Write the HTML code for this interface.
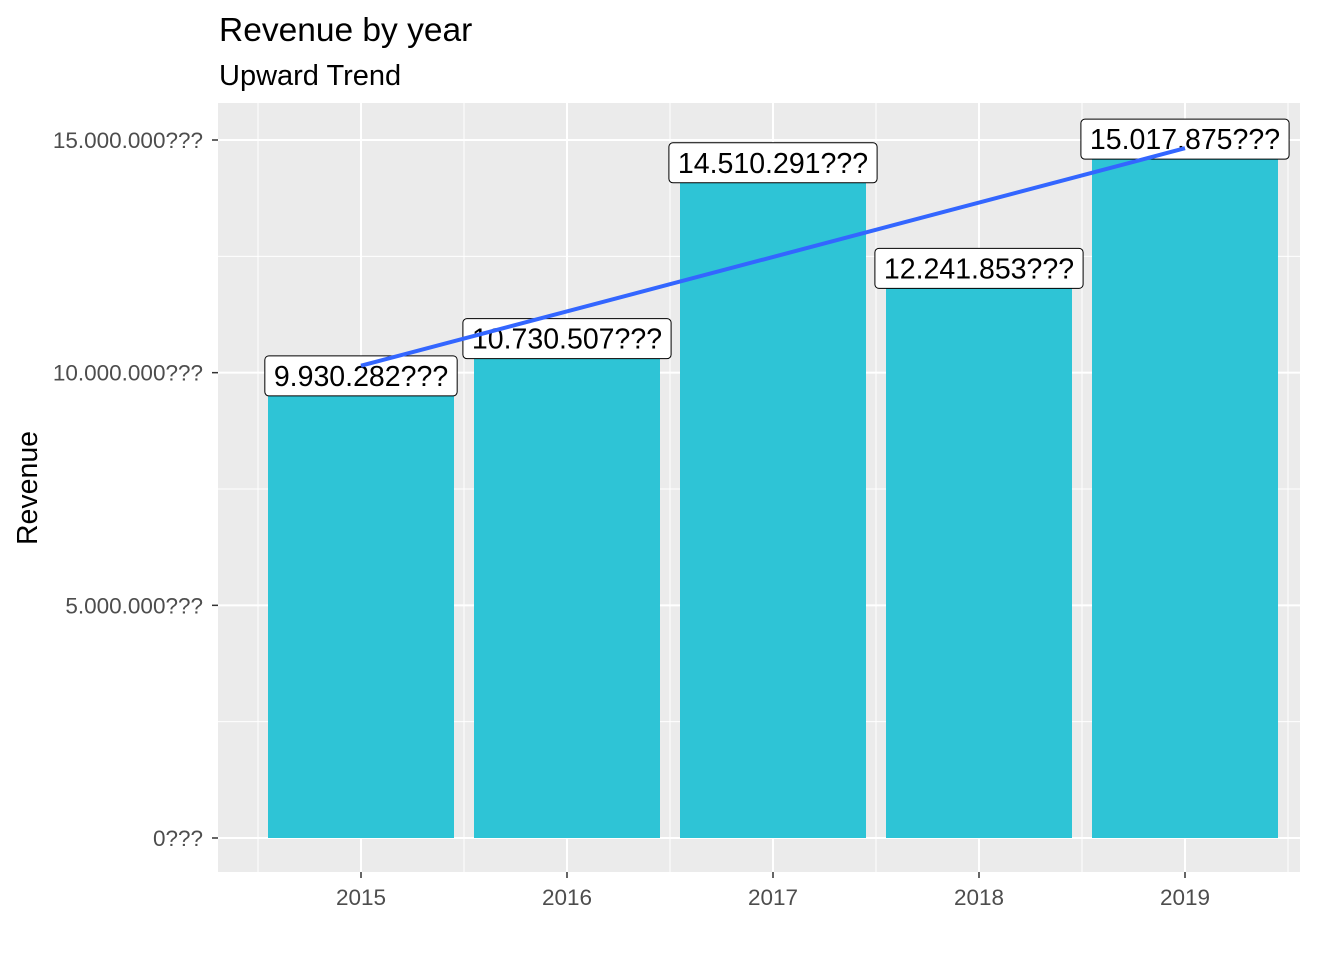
<!DOCTYPE html>
<html><head><meta charset="utf-8"><style>
body{margin:0;background:#fff}
svg text{font-family:"Liberation Sans",Arial,sans-serif}
</style></head><body>
<svg id="chart" width="1344" height="960" xmlns="http://www.w3.org/2000/svg">
<text x="219" y="41" font-size="33.5" fill="#000">Revenue by year</text>
<text x="219" y="85" font-size="29" fill="#000">Upward Trend</text>
<text transform="translate(37,488) rotate(-90)" text-anchor="middle" font-size="28.5" fill="#000">Revenue</text>
<g id="plot"></g>
</svg>
<script>
const years=[2015,2016,2017,2018,2019];
const revenue=[9930282,10730507,14510291,12241853,15017875];
const labels=["9.930.282???","10.730.507???","14.510.291???","12.241.853???","15.017.875???"];
const yTicks=[0,5000000,10000000,15000000];
const yTickLabels=["0???","5.000.000???","10.000.000???","15.000.000???"];

const NS="http://www.w3.org/2000/svg";
const g=document.getElementById('plot');
const L=218,R=1300,T=103,B=872;
const x=v=>361+(v-2015)*206;
const y=v=>838-v*(838-140)/15000000;
function el(t,a,p){const e=document.createElementNS(NS,t);for(const k in a)e.setAttribute(k,a[k]);(p||g).appendChild(e);return e;}
const bg=el('rect',{x:L,y:T,width:R-L,height:B-T,fill:'#EBEBEB'});


for(let i=0;i<yTicks.length-1;i++){const v=(yTicks[i]+yTicks[i+1])/2;
 const l=el('line',{x1:L,x2:R,y1:y(v),y2:y(v),stroke:'#fff','stroke-width':1});
 
 }
for(let i=0;i<=years.length;i++){const v=years[0]-0.5+i;
 const l=el('line',{x1:x(v),x2:x(v),y1:T,y2:B,stroke:'#fff','stroke-width':1});
 
 }
yTicks.forEach((v,i)=>{
 const l=el('line',{x1:L,x2:R,y1:y(v),y2:y(v),stroke:'#fff','stroke-width':2});
 
 
 el('line',{x1:L-6,x2:L,y1:y(v),y2:y(v),stroke:'#333','stroke-width':1.5});
 const t=el('text',{x:L-15,y:y(v)+8,'text-anchor':'end','font-size':22.5,fill:'#4D4D4D'});t.textContent=yTickLabels[i];
 
 
});
years.forEach((yr,i)=>{
 const l=el('line',{x1:x(yr),x2:x(yr),y1:T,y2:B,stroke:'#fff','stroke-width':2});
 
 
 el('line',{x1:x(yr),x2:x(yr),y1:B,y2:B+6,stroke:'#333','stroke-width':1.5});
 const t=el('text',{x:x(yr),y:B+33,'text-anchor':'middle','font-size':22.5,fill:'#4D4D4D'});t.textContent=yr;
 
 
});
years.forEach((yr,i)=>{
 const b=el('rect',{x:x(yr)-93,width:186,y:y(revenue[i]),height:y(0)-y(revenue[i]),fill:'#2EC4D6'});
 
 
});
years.forEach((yr,i)=>{
 const cy=y(revenue[i]);
 const grp=el('g',{});
 
 
 const t=el('text',{x:x(yr),y:cy+10,'text-anchor':'middle','font-size':28.5,fill:'#000'},grp);
 t.textContent=labels[i];
 const w=t.getComputedTextLength()+18;
 const r=el('rect',{x:x(yr)-w/2,y:cy-20,width:w,height:40,rx:4,fill:'#fff',stroke:'#000','stroke-width':1});
 grp.insertBefore(r,t);
});
const n=years.length,mx=years.reduce((a,b)=>a+b)/n,my=revenue.reduce((a,b)=>a+b)/n;
let sxy=0,sxx=0;years.forEach((v,i)=>{sxy+=(v-mx)*(revenue[i]-my);sxx+=(v-mx)**2;});
const sl=sxy/sxx,f=v=>my+sl*(v-mx);
const tl=el('line',{x1:x(years[0]),y1:y(f(years[0])),x2:x(years[n-1]),y2:y(f(years[n-1])),stroke:'#3366FF','stroke-width':4});


</script>
</body></html>
